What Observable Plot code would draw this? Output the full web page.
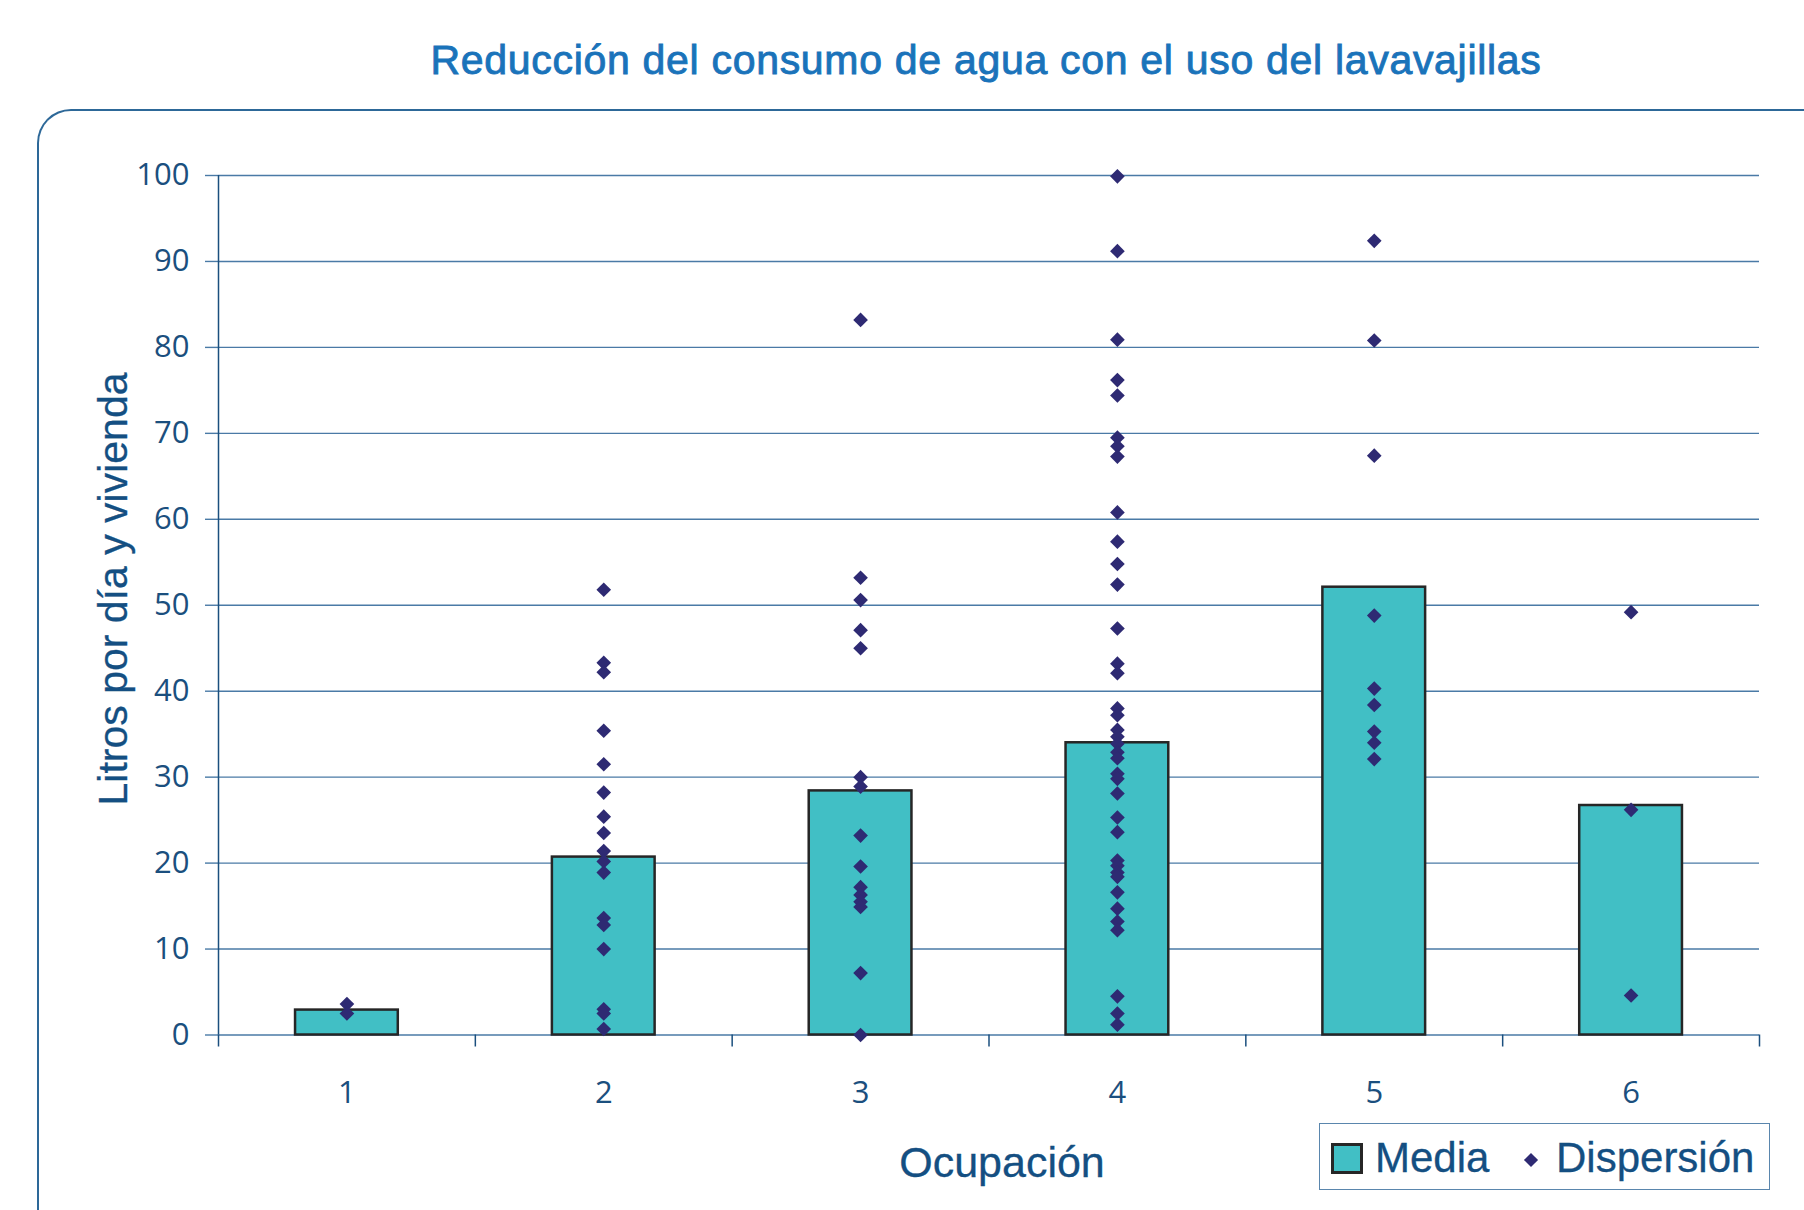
<!DOCTYPE html>
<html>
<head>
<meta charset="utf-8">
<script src="https://cdn.jsdelivr.net/npm/d3@7"></script>
<script src="https://cdn.jsdelivr.net/npm/@observablehq/plot@0.6"></script>
<style>
  html, body { margin: 0; padding: 0; background: #fff; }
  body { width: 1804px; height: 1210px; position: relative; overflow: hidden; font-family: "Liberation Sans", Arial, sans-serif; }
  .frame { position: absolute; left: 37px; top: 109px; width: 2000px; height: 1400px; border-top: 2.5px solid #2d6898; border-left: 2.5px solid #2d6898; border-top-left-radius: 34px; box-sizing: border-box; }
  .t { position: absolute; white-space: nowrap; font-size: 42px; line-height: 42px; color: #144f82; -webkit-text-stroke: 0.3px #144f82; }
  #title { font-size: 41px; line-height: 41px; left: 986px; top: 40px; transform: translateX(-50%); color: #1a73ba; letter-spacing: 0.7px; -webkit-text-stroke: 0.9px #1a73ba; }
  #ylab { font-size: 41px; left: 113px; top: 589px; transform: translate(-50%, -50%) rotate(-90deg); }
  #xlab { font-size: 43px; left: 1002px; top: 1141px; transform: translateX(-50%); }
  #legend { position: absolute; left: 1319px; top: 1123px; width: 451px; height: 67px; border: 1.5px solid #5a86ad; box-sizing: border-box; background: #fff; }
  #sw { position: absolute; left: 1331px; top: 1143px; width: 32px; height: 31px; background: #41bfc5; border: 3px solid #262626; box-sizing: border-box; }
  #dia { position: absolute; left: 1526px; top: 1155px; width: 10px; height: 10px; background: #2e2a73; transform: rotate(45deg); }
  #chart { position: absolute; left: 0; top: 0; }
</style>
</head>
<body>
<div class="frame"></div>
<div id="chart"></div>
<div class="t" id="title">Reducción del consumo de agua con el uso del lavavajillas</div>
<div class="t" id="ylab">Litros por día y vivienda</div>
<div class="t" id="xlab">Ocupación</div>
<div id="legend"></div>
<div id="sw"></div>
<div class="t" style="left:1375px;top:1137px;">Media</div>
<div id="dia"></div>
<div class="t" style="left:1556px;top:1137px;">Dispersión</div>
<script>
// ---- data ----
const categories = [1, 2, 3, 4, 5, 6];
const media = [2.9, 20.7, 28.4, 34.0, 52.1, 26.7];
const disp1 = [3.6, 2.5];
const disp2 = [51.8, 43.3, 42.2, 35.4, 31.5, 28.2, 25.4, 23.5, 21.4, 20.2, 18.9, 13.6, 12.8, 10.0, 3.0, 2.5, 0.7];
const disp3 = [83.2, 53.2, 50.6, 47.1, 45.0, 30.0, 28.9, 23.2, 19.6, 17.2, 16.3, 15.5, 14.9, 7.2, 0.0];
const disp4 = [99.9, 91.2, 80.9, 76.2, 74.4, 69.5, 68.5, 67.3, 60.8, 57.4, 54.8, 52.4, 47.3, 43.2, 42.1, 38.0, 37.2, 35.5, 34.7, 33.9, 32.9, 32.2, 30.4, 29.8, 28.1, 25.3, 23.6, 20.3, 19.7, 18.9, 18.4, 16.6, 14.7, 13.2, 12.2, 4.5, 2.5, 1.2];
const disp5 = [92.4, 80.8, 67.4, 48.8, 40.3, 38.4, 35.3, 34.0, 32.1];
const disp6 = [49.2, 26.2, 4.6];
const yTicks = [0, 10, 20, 30, 40, 50, 60, 70, 80, 90, 100];

// ---- build tables ----
const dispersion = [disp1, disp2, disp3, disp4, disp5, disp6];
const bars = categories.map((c, i) => ({c, v: media[i]}));
const dots = dispersion.flatMap((arr, i) => arr.map(v => ({c: categories[i], v})));
const bounds = [categories[0] - 0.5, ...categories.map(c => c + 0.5)];
const halfBar = 0.2;

const axisBlue = "#1b4f7e";
const gridBlue = "#4a7aa6";

const chart = Plot.plot({
  width: 1804,
  height: 1210,
  marginLeft: 218,
  marginRight: 45,
  marginTop: 175,
  marginBottom: 175.5,
  x: {domain: [bounds[0], bounds[bounds.length - 1]]},
  y: {domain: [0, 100]},
  style: {background: "transparent", fontFamily: "'Open Sans', sans-serif", color: axisBlue},
  marks: [
    Plot.gridY(yTicks, {stroke: gridBlue, strokeOpacity: 1, strokeWidth: 1.4}),
    Plot.axisY(yTicks, {tickSize: 13, tickPadding: 16, fontSize: 31, stroke: gridBlue, strokeWidth: 1.4, fill: axisBlue, label: null}),
    Plot.rect(bars, {x1: d => d.c - halfBar, x2: d => d.c + halfBar, y1: 0, y2: "v", fill: "#41bfc5", stroke: "#262626", strokeWidth: 2.5}),
    Plot.ruleX([bounds[0]], {y1: 0, y2: 100, stroke: axisBlue, strokeWidth: 1.5}),
    Plot.axisX(bounds, {tickSize: 12, tickFormat: () => "", stroke: axisBlue, strokeWidth: 1.5, label: null}),
    Plot.axisX(categories, {tickSize: 0, tickPadding: 46, fontSize: 31, tickFormat: d => String(d), fill: axisBlue, label: null}),
    Plot.dot(dots, {x: "c", y: "v", symbol: "diamond2", r: 6.6, fill: "#2e2a73", stroke: "none"})
  ]
});
document.getElementById("chart").appendChild(chart);
</script>
</body>
</html>
